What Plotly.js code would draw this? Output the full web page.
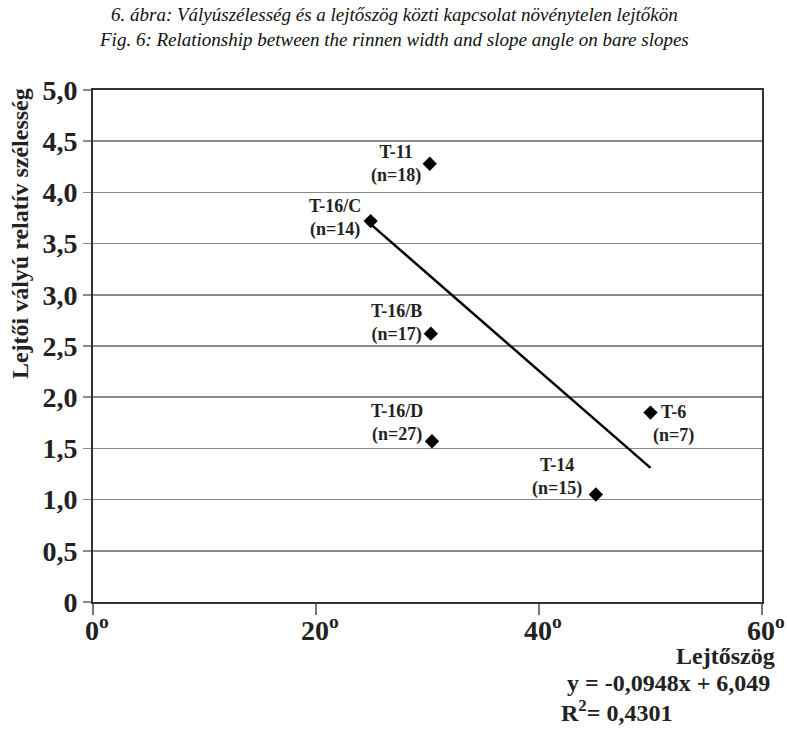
<!DOCTYPE html>
<html>
<head>
<meta charset="utf-8">
<script src="https://cdn.plot.ly/plotly-3.0.1.min.js"></script>
<style>html,body{margin:0;padding:0;background:#fff;}#chart{width:787px;height:731px;}</style>
</head>
<body>
<div id="chart"></div>
<script>
// Data
var siteNames = ['T-11', 'T-16/C', 'T-16/B', 'T-16/D', 'T-14', 'T-6'];
var siteN = [18, 14, 17, 27, 15, 7];
var slopeAngle = [30.2, 24.9, 30.3, 30.4, 45.1, 50.0];
var relWidth = [4.28, 3.72, 2.62, 1.57, 1.05, 1.85];
var trendX = [25, 50];
var trendY = [3.68, 1.31];
var yTickVals = [0, 0.5, 1, 1.5, 2, 2.5, 3, 3.5, 4, 4.5, 5];
var yTickText = ['0', '0,5', '1,0', '1,5', '2,0', '2,5', '3,0', '3,5', '4,0', '4,5', '5,0'];
var xTickVals = [0, 20, 40, 60];
var xTickText = ['0<sup>o</sup>', '20<sup>o</sup>', '40<sup>o</sup>', '60<sup>o</sup>'];
var titleLine1 = '6. ábra: Vályúszélesség és a lejtőszög közti kapcsolat növénytelen lejtőkön';
var titleLine2 = 'Fig. 6: Relationship between the rinnen width and slope angle on bare slopes';
var yTitle = 'Lejtői vályú relatív szélesség';
var xTitle = 'Lejtőszög';
var eqText = 'y = -0,0948x + 6,049';
var r2Text = 'R<sup>2</sup>= 0,4301';

var serif = 'Liberation Serif, Times New Roman, serif';

// label placement styles (pixels), per point
var labelStyle = [
  {xanchor: 'right', xshift: -7, yshift: 0},
  {xanchor: 'right', xshift: -8, yshift: 3},
  {xanchor: 'right', xshift: -7, yshift: 11},
  {xanchor: 'right', xshift: -7, yshift: 18},
  {xanchor: 'right', xshift: -12, yshift: 17},
  {xanchor: 'left', xshift: 0, yshift: -11}
];

var boldFont = function (size) {
  return {family: serif, size: size, color: '#222', weight: 'bold'};
};

var annotations = siteNames.map(function (name, i) {
  var s = labelStyle[i];
  return {
    x: slopeAngle[i], y: relWidth[i], xref: 'x', yref: 'y',
    text: '<b>' + name + '<br>(n=' + siteN[i] + ')</b>',
    showarrow: false, xanchor: s.xanchor, yanchor: 'middle',
    xshift: s.xshift, yshift: s.yshift, align: 'center',
    font: boldFont(18)
  };
});

// x tick labels as annotations at the axis tick values
xTickVals.forEach(function (v, i) {
  annotations.push({
    x: v, xref: 'x', yref: 'paper', y: -0.051,
    text: '<b>' + xTickText[i] + '</b>', showarrow: false,
    xanchor: 'center', yanchor: 'middle', xshift: 4,
    font: boldFont(28)
  });
});

annotations.push({
  xref: 'paper', yref: 'paper', x: 0.45, y: 1.172,
  text: '<i>' + titleLine1 + '<br>' + titleLine2 + '</i>',
  showarrow: false, xanchor: 'center', yanchor: 'top',
  font: {family: serif, size: 19, color: '#111'}
});
annotations.push({
  xref: 'paper', yref: 'paper', x: -0.108, y: 0.72,
  text: '<b>' + yTitle + '</b>', textangle: -90,
  showarrow: false, xanchor: 'center', yanchor: 'middle',
  font: boldFont(24)
});
annotations.push({
  xref: 'paper', yref: 'paper', x: 1.022, y: -0.105,
  text: '<b>' + xTitle + '</b>', showarrow: false, xanchor: 'right', yanchor: 'middle',
  font: boldFont(24)
});
annotations.push({
  xref: 'paper', yref: 'paper', x: 1.015, y: -0.158,
  text: '<b>' + eqText + '</b>', showarrow: false, xanchor: 'right', yanchor: 'middle',
  font: boldFont(24)
});
annotations.push({
  xref: 'paper', yref: 'paper', x: 0.697, y: -0.212,
  text: '<b>' + r2Text + '</b>', showarrow: false, xanchor: 'left', yanchor: 'middle',
  font: boldFont(24)
});

var traces = [
  {
    x: trendX, y: trendY, mode: 'lines', type: 'scatter',
    line: {color: '#000', width: 2.5}, hoverinfo: 'skip'
  },
  {
    x: slopeAngle, y: relWidth, mode: 'markers', type: 'scatter',
    marker: {symbol: 'diamond', size: 11, color: '#000'}
  }
];

var layout = {
  width: 787, height: 731,
  margin: {l: 93, r: 25, t: 90, b: 129},
  paper_bgcolor: '#fff', plot_bgcolor: '#fff',
  showlegend: false,
  xaxis: {
    range: [0, 60], tickvals: xTickVals, showticklabels: false,
    showgrid: false, zeroline: false,
    showline: true, linecolor: '#333', linewidth: 2, mirror: true,
    ticks: 'outside', ticklen: 11, tickwidth: 1.2, tickcolor: '#777',
    fixedrange: true
  },
  yaxis: {
    range: [0, 5], tickvals: yTickVals, ticktext: yTickText,
    showgrid: true, gridcolor: '#8a8a8a', gridwidth: 1.5, zeroline: false,
    showline: true, linecolor: '#333', linewidth: 2, mirror: true,
    ticks: 'outside', ticklen: 8, tickwidth: 1.5, tickcolor: '#8a8a8a',
    tickfont: boldFont(28),
    fixedrange: true
  },
  annotations: annotations
};

Plotly.newPlot('chart', traces, layout, {displayModeBar: false, staticPlot: true});
</script>
</body>
</html>
